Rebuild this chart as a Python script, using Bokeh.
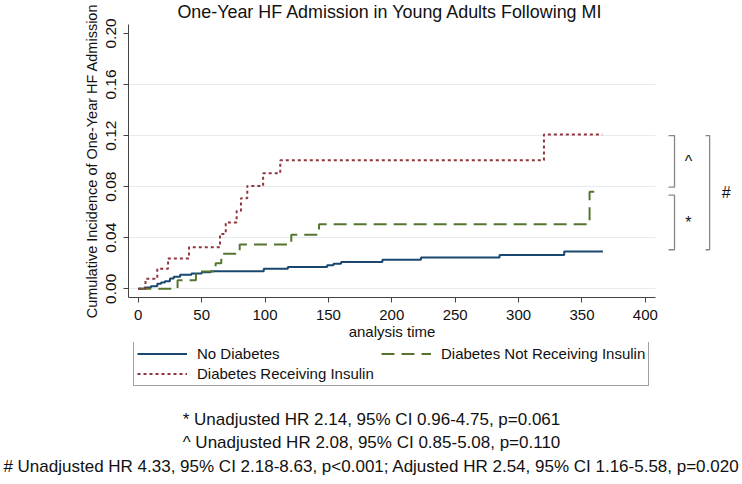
from bokeh.plotting import figure
from bokeh.layouts import column
from bokeh.models import (Range1d, FixedTicker, Legend, LegendItem, PrintfTickFormatter)
from bokeh.core.properties import value
from bokeh.embed import file_html
from bokeh.resources import INLINE

# ---------------- data ----------------
nodiab_t = [0, 5, 10, 15, 18, 21, 25, 28, 33, 42, 50, 57, 99, 118, 149, 154, 160, 192.6, 223, 285, 336, 366.5]
nodiab_y = [0, 0.001, 0.002, 0.004, 0.005, 0.006, 0.008, 0.0095, 0.011, 0.012, 0.013, 0.0137, 0.0158, 0.0171,
            0.0184, 0.0197, 0.0210, 0.0228, 0.0246, 0.0265, 0.0293, 0.0293]

insulin_t = [0, 5.7, 15, 23.5, 40, 64.5, 69, 77.6, 81, 86, 98.5, 112, 320, 366]
insulin_y = [0, 0.0078, 0.0157, 0.0238, 0.0325, 0.043, 0.052, 0.061, 0.071, 0.0806, 0.0905, 0.1006, 0.1209, 0.1209]

noins_t = [0, 31, 45.5, 61, 65.5, 80, 120.7, 142.6, 356, 364]
noins_y = [0, 0.0068, 0.0135, 0.020, 0.0275, 0.0347, 0.0423, 0.0506, 0.0760, 0.0760]

series_labels = ["No Diabetes", "Diabetes Not Receiving Insulin", "Diabetes Receiving Insulin"]
x_ticks = [0, 50, 100, 150, 200, 250, 300, 350, 400]
y_ticks = [0.00, 0.04, 0.08, 0.12, 0.16, 0.20]
grid_ticks = [0.00, 0.04, 0.08, 0.12, 0.16]

title_text = "One-Year HF Admission in Young Adults Following MI"
y_label = "Cumulative Incidence of One-Year HF Admission"
x_label = "analysis time"
footnotes = [
    "* Unadjusted HR 2.14, 95% CI 0.96-4.75, p=0.061",
    "^ Unadjusted HR 2.08, 95% CI 0.85-5.08, p=0.110",
    "# Unadjusted HR 4.33, 95% CI 2.18-8.63, p<0.001; Adjusted HR 2.54, 95% CI 1.16-5.58, p=0.020",
]
# comparison brackets: (label, y_top, y_bottom)
brackets = [("^", 0.120, 0.0796), ("*", 0.0734, 0.0306), ("#", 0.120, 0.0306)]

FONT = "Liberation Sans"
NAVY, MAROON, FOREST = "#1a476f", "#90353b", "#55752f"
STYLES = [dict(line_color=NAVY, line_width=2),
          dict(line_color=FOREST, line_width=2, line_dash="13 7"),
          dict(line_color=MAROON, line_width=2, line_dash="3 3")]

# ---------------- main plot ----------------
p = figure(width=742, height=342, output_backend="svg", toolbar_location=None,
           x_range=Range1d(-7.7, 408), y_range=Range1d(-0.0068, 0.207),
           min_border_left=128, min_border_right=87, min_border_top=24, min_border_bottom=43)
p.outline_line_color = None
p.background_fill_color = "white"
p.border_fill_color = "white"
p.xgrid.visible = False
p.ygrid.ticker = FixedTicker(ticks=grid_ticks)
p.ygrid.grid_line_color = "#e4ecee"
p.ygrid.grid_line_width = 1

for ax in (p.xaxis[0], p.yaxis[0]):
    ax.axis_line_color = "#444444"
    ax.major_tick_line_color = "#444444"
    ax.major_tick_out = 5
    ax.major_tick_in = 0
    ax.minor_tick_out = 0
    ax.minor_tick_in = 0
    ax.major_label_text_font = FONT
    ax.major_label_text_font_size = "15px"
    ax.major_label_text_color = "#111111"
    ax.axis_label_text_font = FONT
    ax.axis_label_text_font_style = "normal"
    ax.axis_label_text_color = "#111111"

p.xaxis.ticker = FixedTicker(ticks=x_ticks)
p.xaxis.axis_label = x_label
p.xaxis.axis_label_text_font_size = "15px"
p.xaxis.major_label_standoff = 7
p.xaxis.axis_label_standoff = 0

p.yaxis.ticker = FixedTicker(ticks=y_ticks)
p.yaxis.formatter = PrintfTickFormatter(format="%.2f")
p.yaxis.major_label_orientation = "vertical"
p.yaxis.major_label_text_font_size = "15.5px"
p.yaxis.axis_label = y_label
p.yaxis.axis_label_text_font_size = "14.5px"
p.yaxis.major_label_standoff = 7
p.yaxis.axis_label_standoff = 4

p.step(nodiab_t, nodiab_y, mode="after", **STYLES[0])
p.step(noins_t, noins_y, mode="after", **STYLES[1])
p.step(insulin_t, insulin_y, mode="after", **STYLES[2])

def overlay_text(fig, xs, ys, texts, size):
    fig.text(x=xs, y=ys, text=texts, text_align="center", text_baseline="middle",
             text_font=value(FONT), text_font_size=value(size), text_color="#111111",
             level="overlay")

overlay_text(p, [199], [0.2171], [title_text], "17.9px")

def bracket(xv, xt, ytop, ybot, lab, xl):
    p.multi_line([[xt, xv, xv, xt]], [[ytop, ytop, ybot, ybot]], line_color="#888888",
                 line_width=1.3, level="overlay")
    overlay_text(p, [xl], [(ytop + ybot) / 2], [lab], "16px")

bracket(423, 418.3, brackets[0][1], brackets[0][2], brackets[0][0], 434)
bracket(423, 418.3, brackets[1][1], brackets[1][2], brackets[1][0], 434)
bracket(450.7, 447.5, brackets[2][1], brackets[2][2], brackets[2][0], 463.8)

# ---------------- legend + footnotes panel ----------------
# its frame is aligned with the main plot's frame by the column layout
q = figure(width=742, height=142, output_backend="svg", toolbar_location=None,
           x_range=Range1d(128, 655), y_range=Range1d(484, 342),
           min_border=0, x_axis_type=None, y_axis_type=None)
q.outline_line_color = None
q.grid.visible = False
q.background_fill_color = "white"
q.border_fill_color = "white"

# legend-only renderers (their single point lies outside the visible range)
lr = [q.line([0, 1], [0, 0], **s) for s in STYLES]
legend = Legend(items=[LegendItem(label=series_labels[0], renderers=[lr[0]]),
                       LegendItem(label=series_labels[1], renderers=[lr[1]]),
                       LegendItem(label=series_labels[2], renderers=[lr[2]])],
                orientation="horizontal", ncols=2, location=(5, 98),
                border_line_color="#444444", border_line_width=1, padding=3, spacing=3,
                glyph_width=50, glyph_height=17, label_standoff=10, label_width=181,
                label_text_font=FONT, label_text_font_size="15px", label_text_color="#111111",
                margin=0, background_fill_color="white")
q.add_layout(legend)

overlay_text(q, [371] * 3, [419, 442, 466], footnotes, "17px")

open("out.html", "w").write(file_html(column(p, q, spacing=0), INLINE))
